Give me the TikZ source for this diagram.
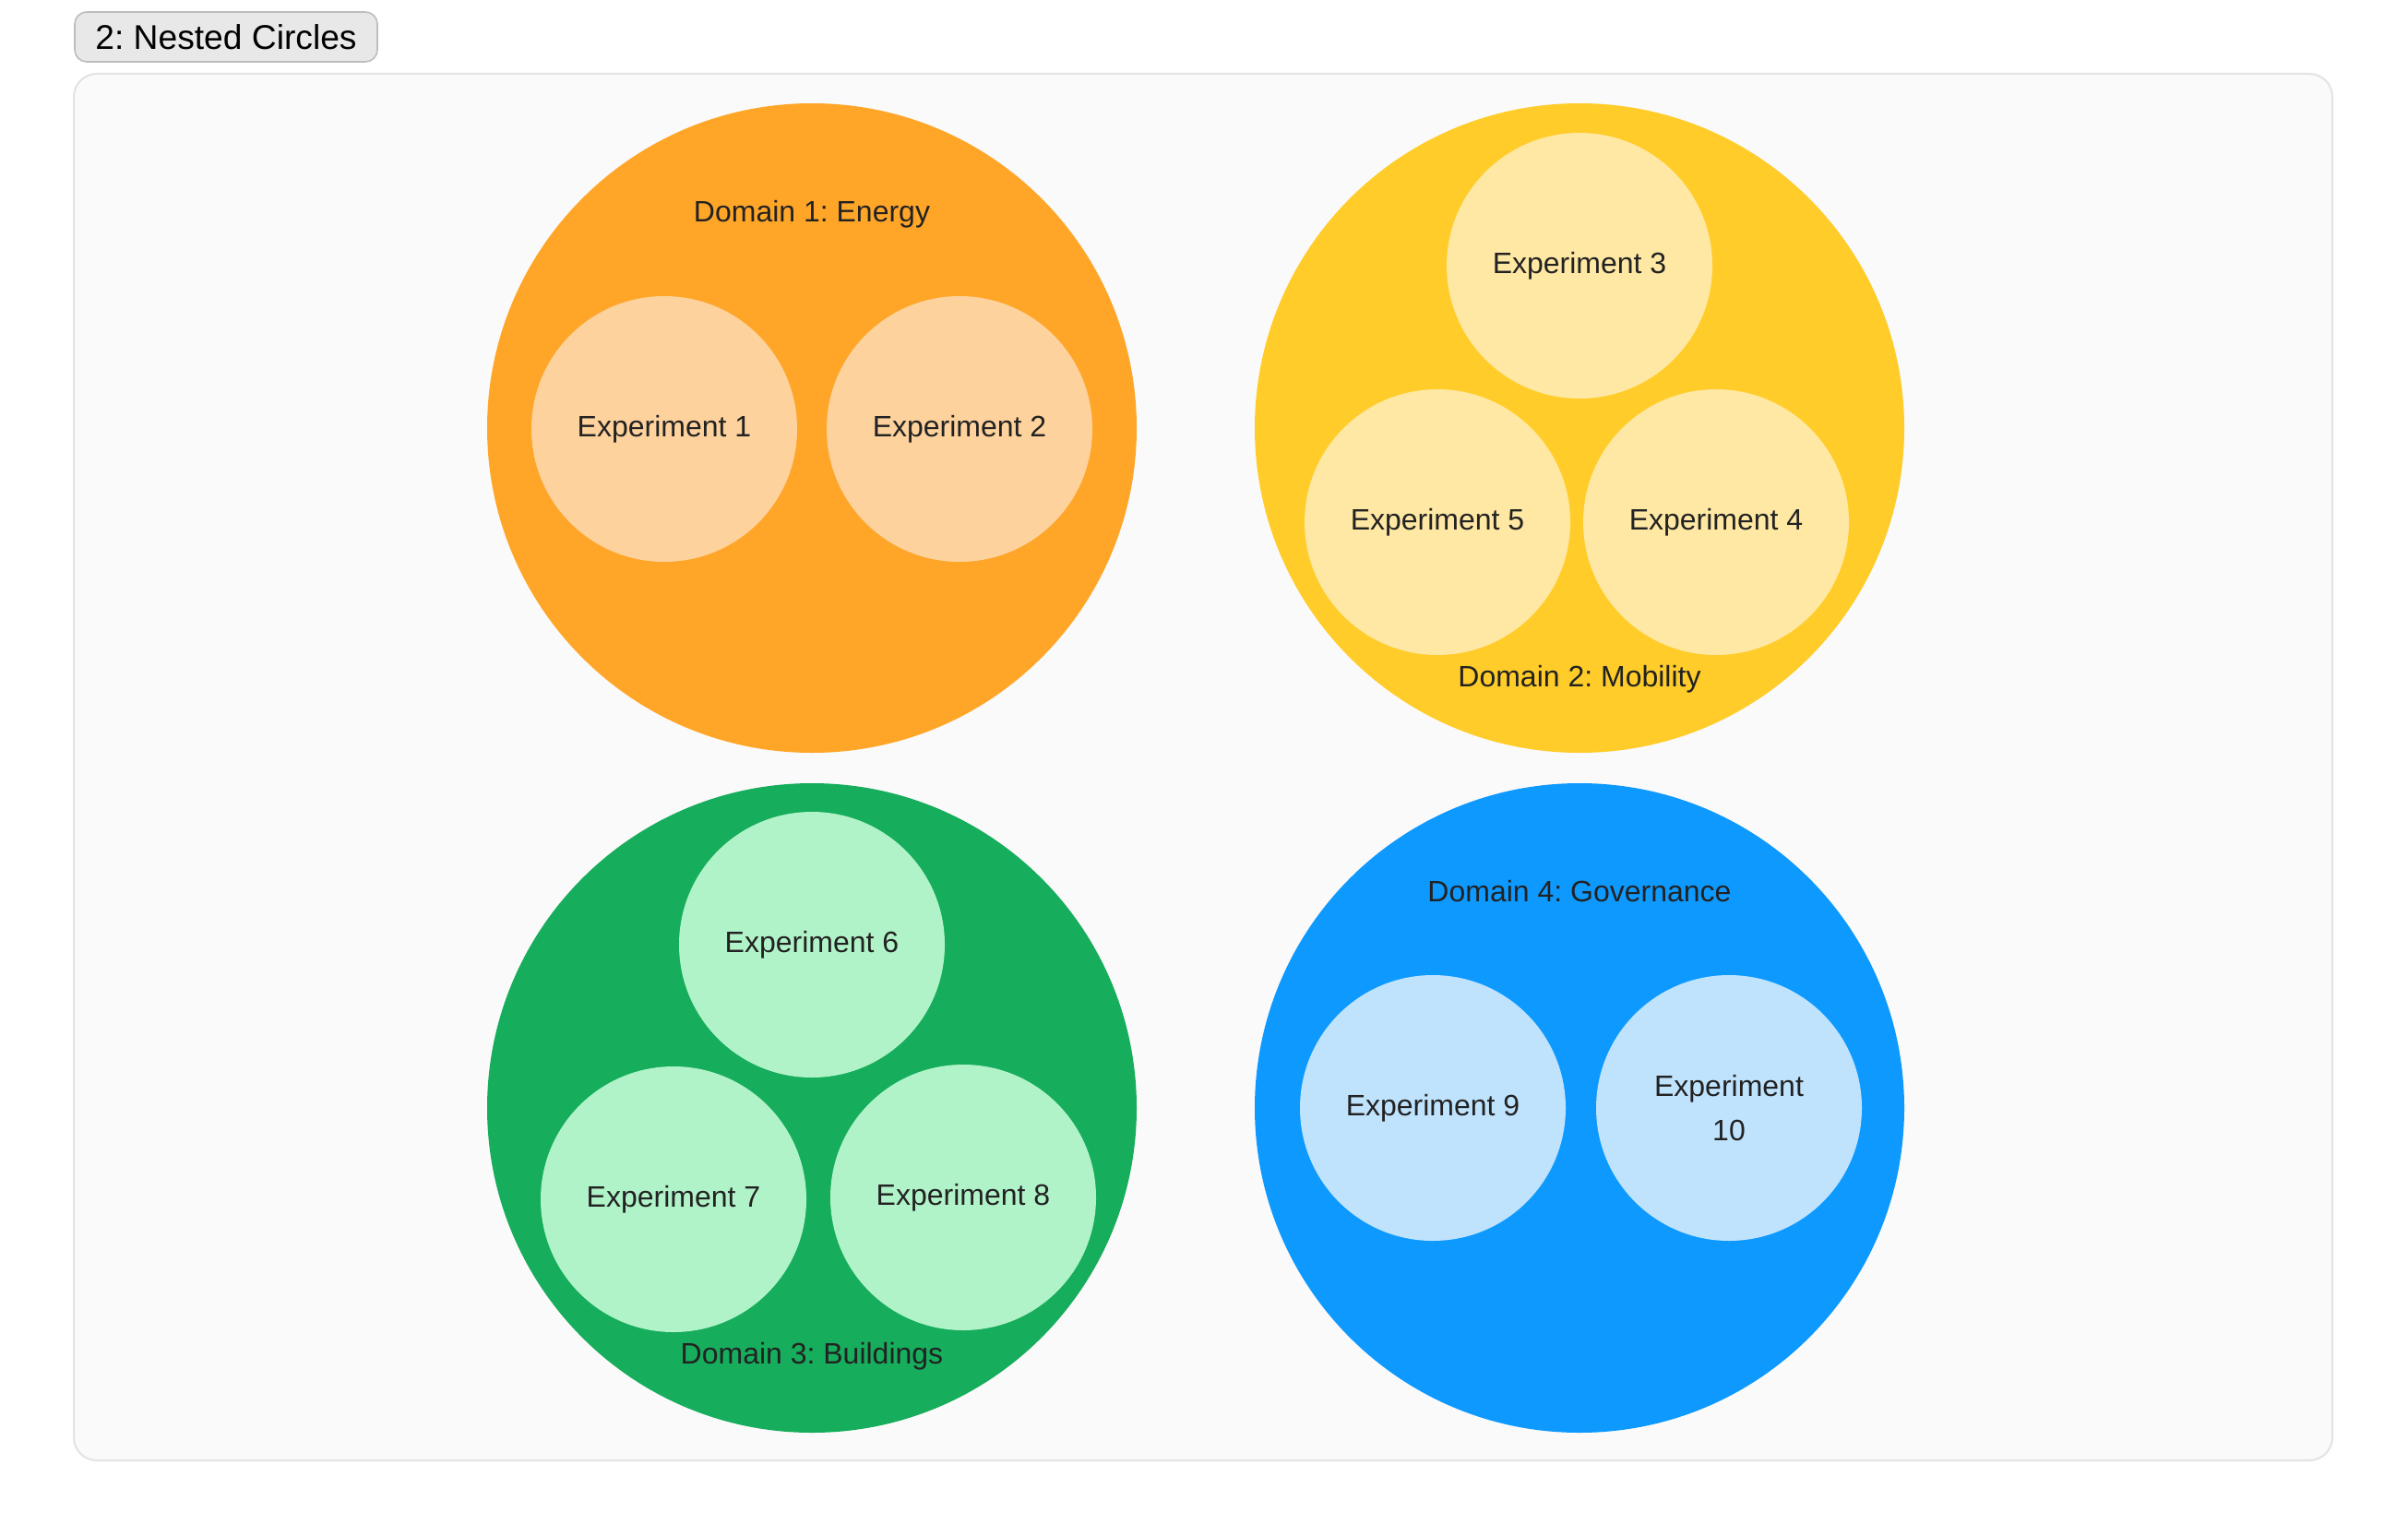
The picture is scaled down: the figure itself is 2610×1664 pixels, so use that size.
\documentclass[tikz,border=0pt]{standalone}
\usepackage{fontspec}
\setmainfont{Liberation Sans}
\frenchspacing
\definecolor{panelbg}{HTML}{FAFAFA}
\definecolor{panelline}{HTML}{E3E3E3}
\definecolor{titlebg}{HTML}{E8E8E8}
\definecolor{titleline}{HTML}{BDBDBD}
\definecolor{txt}{HTML}{222222}
\definecolor{orangeO}{HTML}{FFA629}
\definecolor{orangeI}{HTML}{FDD29D}
\definecolor{yellowO}{HTML}{FFCC29}
\definecolor{yellowI}{HTML}{FFE8A3}
\definecolor{greenO}{HTML}{16AD5C}
\definecolor{greenI}{HTML}{B1F3C8}
\definecolor{blueO}{HTML}{0E99FF}
\definecolor{blueI}{HTML}{BFE3FD}
\tikzset{
  domcircle/.style={circle, draw=none, inner sep=0pt, minimum size=352pt},
  exptcircle/.style={circle, draw=none, inner sep=0pt, minimum size=144pt, text=txt,
    font=\fontsize{16}{24}\selectfont\frenchspacing, align=center},
  domlabel/.style={text=txt, font=\fontsize{16}{24}\selectfont\frenchspacing, inner sep=0pt},
}
\begin{document}
\begin{tikzpicture}[x=0.5pt, y=-0.5pt]
\useasboundingbox (0,0) rectangle (2610,1664);
\fill[white] (0,0) rectangle (2610,1664);
% panel
\draw[fill=panelbg, draw=panelline, line width=1pt, rounded corners=12.5pt] (80,80) rectangle (2528,1583);
% title
\node[draw=titleline, fill=titlebg, line width=0.8pt, rounded corners=6.5pt,
  minimum width=164pt, minimum height=27pt, inner sep=0pt,
  font=\fontsize{18.6}{22}\selectfont\frenchspacing, text=black] (title) at (245,40) {2: Nested Circles};
% domains
\node[domcircle, fill=orangeO] (d1) at (880,464) {};
\node[domcircle, fill=yellowO] (d2) at (1712,464) {};
\node[domcircle, fill=greenO] (d3) at (880,1201) {};
\node[domcircle, fill=blueO] (d4) at (1712,1201) {};
% domain labels
\node[domlabel] (l1) at (880,232) {Domain 1: Energy};
\node[domlabel] (l2) at (1712,736) {Domain 2: Mobility};
\node[domlabel] (l3) at (880,1470) {Domain 3: Buildings};
\node[domlabel] (l4) at (1712,966) {Domain 4: Governance};
% experiments
\node[exptcircle, fill=orangeI] (e1) at (720,465) {Experiment 1};
\node[exptcircle, fill=orangeI] (e2) at (1040,465) {Experiment 2};
\node[exptcircle, fill=yellowI] (e3) at (1712,288) {Experiment 3};
\node[exptcircle, fill=yellowI] (e5) at (1558,566) {Experiment 5};
\node[exptcircle, fill=yellowI] (e4) at (1860,566) {Experiment 4};
\node[exptcircle, fill=greenI] (e6) at (880,1024) {Experiment 6};
\node[exptcircle, fill=greenI] (e7) at (730,1300) {Experiment 7};
\node[exptcircle, fill=greenI] (e8) at (1044,1298) {Experiment 8};
\node[exptcircle, fill=blueI] (e9) at (1553,1201) {Experiment 9};
\node[exptcircle, fill=blueI] (e10) at (1874,1201) {Experiment\\10};
\end{tikzpicture}
\end{document}
